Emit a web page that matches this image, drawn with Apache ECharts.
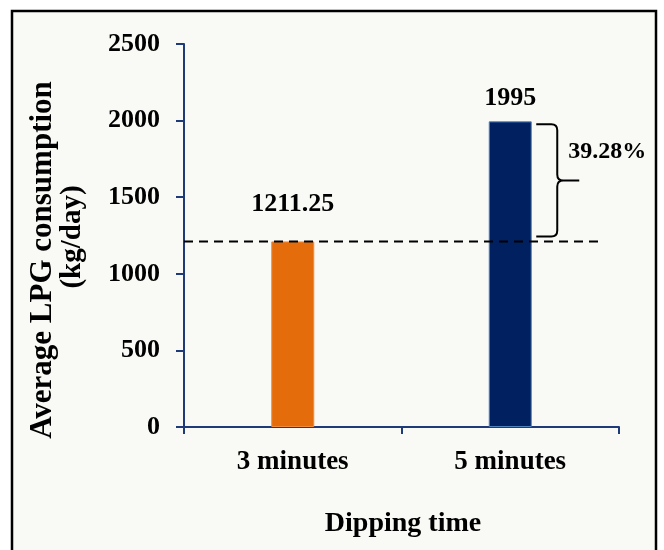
<!DOCTYPE html>
<html>
<head>
<meta charset="utf-8">
<script src="https://cdn.jsdelivr.net/npm/echarts@6/dist/echarts.min.js"></script>
<style>
  html, body { margin: 0; padding: 0; background: #ffffff; }
  #chart { width: 664px; height: 550px; }
</style>
</head>
<body>
<div id="chart"></div>
<script>
// Dipping time vs. average LPG consumption
const categories = ['3 minutes', '5 minutes'];
const consumption = [1211.25, 1995];
const barColors = ['#E46C0A', '#002060'];
const barBorders = ['#F08A3C', '#4F81BD'];
const increaseLabel = '39.28%';
const yTicks = { min: 0, max: 2500, interval: 500 };

const FONT = '"Liberation Serif", "Times New Roman", serif';
const AXIS_COLOR = '#1F3A78';

const chart = echarts.init(document.getElementById('chart'));

// Reference line at the 3-minute level plus a brace spanning the increase
function renderAnnotation(params, api) {
  const base = api.value(1);
  const top = api.value(2);
  const cat = api.value(0);
  const band = api.size([1, 0])[0];
  const pBase = api.coord([cat, base]);
  const pTop = api.coord([cat, top]);
  const pStart = api.coord([0, base]);
  const xLeft = pStart[0] - band / 2;
  const xEnd = pBase[0] + 89;

  const y1 = pTop[1] + 3;
  const y2 = pBase[1] - 5;
  const ym = (y1 + y2) / 2;
  const bx = pBase[0] + 26;   // open side of the brace
  const vx = bx + 21;         // vertical stroke
  const tx = vx + 22;         // point
  const r = 6;
  const path =
    'M' + bx + ',' + y1 +
    ' L' + (vx - r) + ',' + y1 +
    ' Q' + vx + ',' + y1 + ' ' + vx + ',' + (y1 + r) +
    ' L' + vx + ',' + (ym - r) +
    ' Q' + vx + ',' + ym + ' ' + (vx + r) + ',' + ym +
    ' L' + tx + ',' + ym +
    ' M' + (vx + r) + ',' + ym +
    ' Q' + vx + ',' + ym + ' ' + vx + ',' + (ym + r) +
    ' L' + vx + ',' + (y2 - r) +
    ' Q' + vx + ',' + y2 + ' ' + (vx - r) + ',' + y2 +
    ' L' + bx + ',' + y2;

  return {
    type: 'group',
    children: [
      {
        type: 'line',
        shape: { x1: xLeft, y1: pBase[1], x2: xEnd, y2: pBase[1] },
        style: { stroke: '#000', lineWidth: 2, lineDash: [9, 6] }
      },
      {
        type: 'path',
        shape: { pathData: path },
        style: { stroke: '#000', lineWidth: 2, fill: null }
      },
      {
        type: 'text',
        x: tx - 11,
        y: ym - 29,
        style: {
          text: increaseLabel,
          font: 'bold 24px ' + FONT,
          fill: '#000',
          align: 'left',
          verticalAlign: 'middle'
        }
      }
    ]
  };
}

chart.setOption({
  animation: false,
  backgroundColor: '#ffffff',
  graphic: [
    {
      type: 'rect',
      z: -10,
      shape: { x: 12, y: 11, width: 644, height: 560 },
      style: { fill: '#F9F9F5', stroke: '#000', lineWidth: 2.5 }
    },
    {
      type: 'text',
      x: 43, y: 260, rotation: Math.PI / 2,
      style: { text: 'Average LPG consumption', font: 'bold 31px ' + FONT, fill: '#000', align: 'center', verticalAlign: 'middle' }
    },
    {
      type: 'text',
      x: 73, y: 237, rotation: Math.PI / 2,
      style: { text: '(kg/day)', font: 'bold 29px ' + FONT, fill: '#000', align: 'center', verticalAlign: 'middle' }
    },
    {
      type: 'text',
      x: 403, y: 524,
      style: { text: 'Dipping time', font: 'bold 28px ' + FONT, fill: '#000', align: 'center', verticalAlign: 'middle' }
    }
  ],
  grid: { left: 184, right: 45, top: 44, bottom: 123 },
  xAxis: {
    type: 'category',
    data: categories,
    axisLine: { lineStyle: { color: AXIS_COLOR, width: 2 } },
    axisTick: { show: true, length: 7, lineStyle: { color: AXIS_COLOR, width: 2 } },
    axisLabel: { color: '#000', fontFamily: FONT, fontWeight: 'bold', fontSize: 27, margin: 22 }
  },
  yAxis: {
    type: 'value',
    min: yTicks.min,
    max: yTicks.max,
    interval: yTicks.interval,
    splitLine: { show: false },
    axisLine: { show: true, lineStyle: { color: AXIS_COLOR, width: 2 } },
    axisTick: { show: true, length: 8, lineStyle: { color: AXIS_COLOR, width: 2 } },
    axisLabel: {
      color: '#000', fontFamily: FONT, fontWeight: 'bold', fontSize: 26, margin: 24,
      formatter: v => String(v)
    }
  },
  series: [
    {
      type: 'bar',
      barWidth: 43,
      data: consumption.map((v, i) => ({
        value: v,
        itemStyle: { color: barColors[i], borderColor: barBorders[i], borderWidth: 1 },
        label: { distance: i === 0 ? 24 : 10 }
      })),
      label: {
        show: true,
        position: 'top',
        color: '#000',
        fontFamily: FONT,
        fontWeight: 'bold',
        fontSize: 26,
        formatter: p => String(p.value)
      }
    },
    {
      type: 'custom',
      renderItem: renderAnnotation,
      data: [[1, consumption[0], consumption[1]]],
      z: 5,
      silent: true
    }
  ]
});
</script>
</body>
</html>
